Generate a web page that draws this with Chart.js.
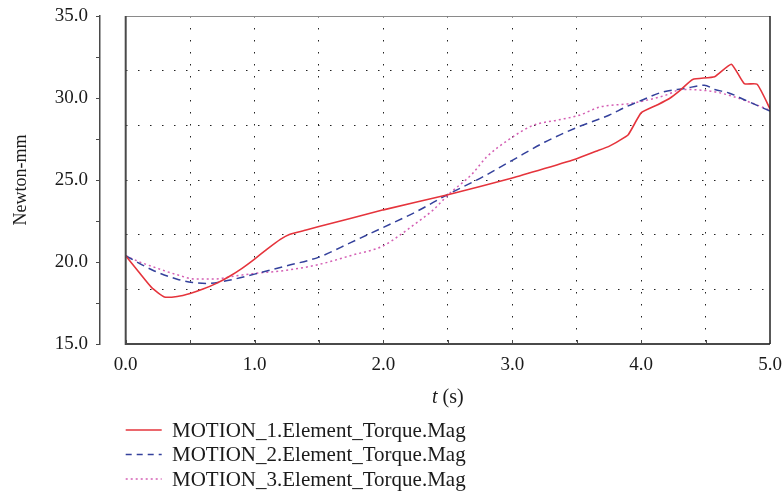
<!DOCTYPE html>
<html>
<head>
<meta charset="utf-8">
<script src="https://cdn.jsdelivr.net/npm/chart.js@4.4.0/dist/chart.umd.min.js"></script>
<style>
  html, body { margin: 0; padding: 0; background: #fff; }
  canvas { display: block; }
</style>
</head>
<body>
<canvas id="torque-chart-id" width="784" height="493"></canvas>
<script>
const SERIES_NAMES = [
    'MOTION_1.Element_Torque.Mag',
    'MOTION_2.Element_Torque.Mag',
    'MOTION_3.Element_Torque.Mag'
]

const TIME_1 = [0.0, 0.1, 0.2, 0.3, 0.4, 0.5, 0.6, 0.7, 0.8, 0.9, 1.0, 1.1, 1.2, 1.27, 1.4, 1.5, 2.0, 2.5, 3.0, 3.25, 3.5, 3.65, 3.75, 3.83, 3.9, 4.0, 4.12, 4.22, 4.3, 4.4, 4.57, 4.7, 4.8, 4.9, 5.0]
const TORQUE_1 = [20.38, 19.4, 18.45, 17.87, 17.9, 18.08, 18.35, 18.68, 19.1, 19.6, 20.18, 20.8, 21.38, 21.68, 21.95, 22.16, 23.18, 24.1, 25.12, 25.7, 26.3, 26.75, 27.05, 27.4, 27.76, 29.09, 29.56, 29.97, 30.45, 31.13, 31.3, 32.06, 30.88, 30.84, 29.35]

const TIME_2 = [0.0, 0.21, 0.4, 0.52, 0.63, 0.78, 1.0, 1.25, 1.5, 1.75, 2.0, 2.25, 2.5, 2.75, 3.0, 3.25, 3.5, 3.75, 3.88, 4.0, 4.17, 4.34, 4.49, 4.57, 4.68, 4.81, 5.0]
const TORQUE_2 = [20.38, 19.5, 18.95, 18.75, 18.69, 18.85, 19.26, 19.77, 20.3, 21.2, 22.11, 23.05, 24.12, 25.1, 26.2, 27.3, 28.2, 28.95, 29.45, 29.85, 30.37, 30.58, 30.78, 30.52, 30.31, 29.86, 29.2]

const TIME_3 = [0.0, 0.1, 0.24, 0.4, 0.54, 0.68, 0.86, 1.0, 1.25, 1.5, 1.75, 2.0, 2.14, 2.25, 2.38, 2.51, 2.69, 2.8, 2.98, 3.16, 3.35, 3.52, 3.68, 3.91, 4.04, 4.19, 4.32, 4.48, 4.58, 4.71, 4.87, 5.0]
const TORQUE_3 = [20.38, 20.03, 19.63, 19.22, 18.96, 18.96, 19.16, 19.3, 19.5, 19.85, 20.4, 20.99, 21.71, 22.35, 23.13, 24.15, 25.38, 26.4, 27.5, 28.33, 28.65, 28.95, 29.45, 29.66, 29.86, 30.17, 30.52, 30.47, 30.37, 30.1, 29.66, 29.25]

const X_MIN = 0, X_MAX = 5, X_STEP = 0.5
const Y_MIN = 15, Y_MAX = 35, Y_STEP = 2.5, Y_LABEL_STEP = 5

const RED = '#e5343c'
const BLUE = '#34419c'
const PINK = '#d45fb4'
const AXIS_COLOR = '#4a4a4a'
const GRID_COLOR = '#222'
const FONT = 'Liberation Serif'

Chart.defaults.font.family = FONT
Chart.defaults.color = '#1a1a1a'

const toPoints = (xs, ys) => xs.map((x, i) => ({ x: x, y: ys[i] }))

// labels may hang over the plot edges, the layout padding already leaves room
const noOverhang = s => {
    s.paddingLeft = 0
    s.paddingRight = 0
    s.paddingTop = 0
    s.paddingBottom = 0
}

// frame round the plot area + small inward ticks on the time axis
const framePlugin = {
    id: 'frame',
    afterDatasetsDraw(chart) {
        const { ctx, chartArea: a, scales } = chart
        ctx.save()
        ctx.strokeStyle = '#8a8a8a'
        ctx.lineWidth = 1
        ctx.beginPath()
        ctx.moveTo(a.left, a.top + 0.5)
        ctx.lineTo(a.right, a.top + 0.5)
        ctx.stroke()

        ctx.strokeStyle = AXIS_COLOR
        ctx.lineWidth = 2
        ctx.beginPath()
        ctx.moveTo(a.left, a.top)
        ctx.lineTo(a.left, a.bottom)
        ctx.lineTo(a.right, a.bottom)
        ctx.stroke()

        ctx.strokeStyle = '#222'
        ctx.lineWidth = 1.5
        ctx.beginPath()
        ctx.moveTo(a.right, a.top)
        ctx.lineTo(a.right, a.bottom)
        ctx.stroke()

        ctx.lineWidth = 1
        ctx.strokeStyle = AXIS_COLOR
        scales.x.ticks.forEach(t => {
            const px = Math.round(scales.x.getPixelForValue(t.value)) + 0.5
            ctx.beginPath()
            ctx.moveTo(px, a.bottom)
            ctx.lineTo(px, a.bottom - 4)
            ctx.stroke()
        })

        // x axis title, with an italic t
        ctx.fillStyle = '#1a1a1a'
        ctx.textBaseline = 'alphabetic'
        ctx.font = 'italic 20px ' + FONT
        const w1 = ctx.measureText('t').width
        ctx.font = '20px ' + FONT
        const w2 = ctx.measureText(' (s)').width
        const cx = (a.left + a.right) / 2
        const x0 = cx - (w1 + w2) / 2
        ctx.font = 'italic 20px ' + FONT
        ctx.fillText('t', x0, 403)
        ctx.font = '20px ' + FONT
        ctx.fillText(' (s)', x0 + w1, 403)
        ctx.restore()
    }
}

const legendPlugin = {
    id: 'columnLegend',
    afterDraw(chart) {
        const { ctx, chartArea: a } = chart
        ctx.save()
        ctx.font = '21px ' + FONT
        ctx.textBaseline = 'middle'
        ctx.fillStyle = '#1a1a1a'
        chart.data.datasets.forEach((ds, i) => {
            const y = 430 + i * 24.5
            ctx.strokeStyle = ds.borderColor
            ctx.lineWidth = 1.5
            ctx.setLineDash(ds.legendDash || [])
            ctx.beginPath()
            ctx.moveTo(a.left, y)
            ctx.lineTo(a.left + 36, y)
            ctx.stroke()
            ctx.setLineDash([])
            ctx.fillText(ds.label, 172, y + 1)
        })
        ctx.restore()
    }
}

const gridColor = (lo, hi) => c => {
    const v = c.tick ? c.tick.value : null
    if (v === null) return 'rgba(0,0,0,0)'
    if (Math.abs(v - lo) < 1e-6 || Math.abs(v - hi) < 1e-6) return 'rgba(0,0,0,0)'
    return GRID_COLOR
}

const data = {
    datasets: [
        {
            label: SERIES_NAMES[0],
            data: toPoints(TIME_1, TORQUE_1),
            borderColor: RED,
            borderWidth: 1.6,
            pointRadius: 0,
            tension: 0.15
        }, {
            label: SERIES_NAMES[1],
            data: toPoints(TIME_2, TORQUE_2),
            borderColor: BLUE,
            borderWidth: 1.5,
            borderDash: [8, 5],
            legendDash: [6, 5],
            pointRadius: 0,
            cubicInterpolationMode: 'monotone'
        }, {
            label: SERIES_NAMES[2],
            data: toPoints(TIME_3, TORQUE_3),
            borderColor: PINK,
            borderWidth: 1.5,
            borderDash: [2, 3],
            legendDash: [2, 3],
            pointRadius: 0,
            cubicInterpolationMode: 'monotone'
        }
    ]
}

const config = {
    type: 'line',
    data: data,
    options: {
        responsive: false,
        animation: false,
        devicePixelRatio: 1,
        layout: {
            padding: { left: 0, top: 16, right: 14, bottom: 89 }
        },
        plugins: {
            legend: { display: false },
            tooltip: { enabled: false }
        },
        scales: {
            x: {
                type: 'linear',
                min: X_MIN,
                max: X_MAX,
                afterFit: s => { s.height = 60; noOverhang(s) },
                ticks: {
                    stepSize: X_STEP,
                    autoSkip: false,
                    maxRotation: 0,
                    padding: 10,
                    font: { size: 19 },
                    callback: v => (Math.abs(v - Math.round(v)) < 1e-6 ? v.toFixed(1) : '')
                },
                grid: {
                    drawOnChartArea: true,
                    drawTicks: false,
                    color: gridColor(X_MIN, X_MAX),
                    lineWidth: 1
                },
                border: { display: false, dash: [1.5, 10.5] }
            },
            y: {
                // inner scale: carries the data and the dotted grid, leaves a gap before the axis
                position: 'left',
                weight: 0,
                min: Y_MIN,
                max: Y_MAX,
                afterFit: s => { s.width = 25.7; noOverhang(s) },
                ticks: { display: false, stepSize: (Y_MAX - Y_MIN) / 6 },
                grid: {
                    drawOnChartArea: true,
                    drawTicks: false,
                    color: gridColor(Y_MIN, Y_MAX),
                    lineWidth: 1
                },
                border: { display: false, dash: [1.5, 10.5] }
            },
            yAxis: {
                position: 'left',
                weight: 1,
                min: Y_MIN,
                max: Y_MAX,
                afterFit: s => { s.width = 100; noOverhang(s) },
                ticks: {
                    stepSize: Y_STEP,
                    padding: 8,
                    font: { size: 19 },
                    callback: v => (v % Y_LABEL_STEP === 0 ? v.toFixed(1) : '')
                },
                grid: {
                    drawOnChartArea: false,
                    drawTicks: true,
                    tickLength: 4,
                    tickColor: AXIS_COLOR,
                    tickWidth: 1
                },
                border: { display: true, color: AXIS_COLOR, width: 1.5 },
                title: {
                    display: true,
                    text: 'Newton-mm',
                    font: { size: 18 },
                    padding: { top: 10, bottom: 0 }
                }
            }
        }
    },
    plugins: [framePlugin, legendPlugin]
}

const chart = new Chart(document.getElementById('torque-chart-id'), config)
</script>
</body>
</html>
